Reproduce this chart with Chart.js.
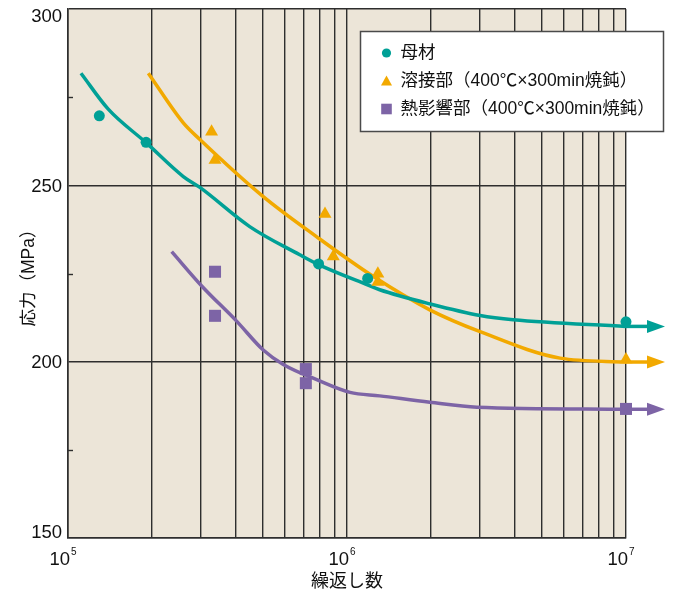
<!DOCTYPE html>
<html lang="ja">
<head>
<meta charset="utf-8">
<title>S-N線図</title>
<script src="https://cdn.jsdelivr.net/npm/chart.js@4.4.1/dist/chart.umd.min.js"></script>
<style>
  html, body { margin: 0; padding: 0; background: #fff; }
  #wrap { width: 675px; height: 596px; }
</style>
</head>
<body>
<div id="wrap"><canvas id="snChart" width="675" height="596"></canvas></div>
<script>
// S-N線図：母材・溶接部・熱影響部（400℃×300min焼鈍）

const seriesLabels = ['母材', '溶接部（400℃×300min焼鈍）', '熱影響部（400℃×300min焼鈍）'];
const seriesColors = ['#00a096', '#f2a900', '#7d64a6'];
const seriesMarkers = ['circle', 'triangle', 'rect'];
const markerRadius = [5.5, 7.5, 8.5];

// 試験点
const baseMetalX = [1.295e5, 1.905e5, 7.91e5, 1.186e6, 1e7];
const baseMetalY = [269.7, 262.2, 227.7, 223.6, 211.3];
const weldX = [3.27e5, 3.365e5, 8.34e5, 8.93e5, 1.29e6, 1.29e6, 1e7];
const weldY = [265.2, 257.2, 241.9, 229.8, 224.9, 222.6, 200.6];
const hazX = [3.365e5, 3.365e5, 7.12e5, 7.12e5, 1e7];
const hazY = [225.5, 213.0, 197.9, 193.9, 186.6];

// 近似曲線
const baseMetalCurveX = [1.113e5, 1.394e5, 1.905e5, 2.59e5, 2.97e5, 4.48e5, 6.77e5, 7.91e5, 1.19e6, 1.31e6, 1.98e6, 3.0e6, 3.94e6, 1e7];
const baseMetalCurveY = [281.8, 271.6, 262.1, 252.5, 249.4, 238.3, 230.3, 227.5, 221.7, 220.4, 216.4, 213.1, 211.9, 210.0];
const weldCurveX = [1.94e5, 2.59e5, 2.97e5, 5.01e5, 7.79e5, 1.24e6, 1.98e6, 3.0e6, 5.8e6, 1e7];
const weldCurveY = [281.8, 267.7, 263.0, 246.8, 235.4, 224.2, 214.7, 208.5, 201.0, 199.9];
const hazCurveX = [2.353e5, 3.02e5, 4.02e5, 5.01e5, 5.91e5, 7.79e5, 1.025e6, 1.31e6, 1.98e6, 2.92e6, 1e7];
const hazCurveY = [231.2, 221.4, 211.5, 203.3, 199.2, 194.9, 191.3, 190.3, 188.5, 187.1, 186.5];

// 目盛
const xGridValues = [];
for (const decade of [1e5, 1e6]) {
  for (let m = 1; m <= 9; m++) xGridValues.push(m * decade);
}
xGridValues.push(1e7);
const xLabelExponents = [5, 6, 7];
const yTickValues = [150, 175, 200, 225, 250, 275, 300];
const yLabelValues = [150, 200, 250, 300];

const pointSets = [[baseMetalX, baseMetalY], [weldX, weldY], [hazX, hazY]];
const curveSets = [[baseMetalCurveX, baseMetalCurveY], [weldCurveX, weldCurveY], [hazCurveX, hazCurveY]];

const FONT = '"Liberation Sans", "Noto Sans CJK JP", Arial, sans-serif';
const INK = '#111';
const GRID = '#2e2e2e';

function toXY(xs, ys) {
  return xs.map((x, i) => ({ x, y: ys[i] }));
}

const datasets = [];
pointSets.forEach(([xs, ys], i) => {
  datasets.push({
    type: 'scatter',
    label: seriesLabels[i],
    data: toXY(xs, ys),
    pointStyle: seriesMarkers[i],
    pointRadius: markerRadius[i],
    backgroundColor: seriesColors[i],
    borderWidth: 0,
    clip: false,
    order: 0
  });
});
curveSets.forEach(([xs, ys], i) => {
  datasets.push({
    type: 'line',
    data: toXY(xs, ys),
    borderColor: seriesColors[i],
    borderWidth: 3.5,
    pointRadius: 0,
    cubicInterpolationMode: 'monotone',
    fill: false,
    clip: false,
    arrowHead: true,
    order: 1
  });
});

// plot area fill
const plotBackground = {
  id: 'plotBackground',
  beforeDraw(chart) {
    const { ctx, chartArea: a } = chart;
    ctx.save();
    ctx.fillStyle = '#fff';
    ctx.fillRect(0, 0, chart.width, chart.height);
    ctx.fillStyle = '#ece5d8';
    ctx.fillRect(a.left, a.top, a.right - a.left, a.bottom - a.top);
    ctx.restore();
  }
};

// short inner ticks + axis numbers (10^n on x)
const axisLabels = {
  id: 'axisLabels',
  beforeDatasetsDraw(chart) {
    const { ctx, chartArea: a, scales: { y } } = chart;
    ctx.save();
    ctx.strokeStyle = GRID;
    ctx.lineWidth = 1.4;
    yTickValues.filter(v => !yLabelValues.includes(v)).forEach(v => {
      const py = Math.round(y.getPixelForValue(v)) + 0.5;
      ctx.beginPath();
      ctx.moveTo(a.left, py);
      ctx.lineTo(a.left + 5, py);
      ctx.stroke();
    });
    ctx.restore();
  },
  afterDraw(chart) {
    const { ctx, chartArea: a, scales: { x, y } } = chart;
    ctx.save();
    ctx.fillStyle = INK;
    ctx.textBaseline = 'alphabetic';

    // y numbers, kept inside the frame at both ends
    ctx.font = '18.5px ' + FONT;
    ctx.textAlign = 'right';
    const cap = 13.2;
    yLabelValues.forEach(v => {
      const py = y.getPixelForValue(v);
      const base = Math.min(Math.max(py + cap / 2, a.top + cap), a.bottom);
      ctx.fillText(String(v), a.left - 6, base);
    });

    // x numbers as 10 with superscript exponent
    xLabelExponents.forEach(e => {
      const px = x.getPixelForValue(Math.pow(10, e));
      ctx.font = '18.5px ' + FONT;
      ctx.textAlign = 'right';
      ctx.fillText('10', px + 2, a.bottom + 27);
      ctx.font = '10px ' + FONT;
      ctx.textAlign = 'left';
      ctx.fillText(String(e), px + 3, a.bottom + 17);
    });
    ctx.restore();
  }
};

// arrow at the long-life end of each curve
const arrowHead = {
  id: 'arrowHead',
  afterDatasetDraw(chart, args, opts) {
    const ds = chart.data.datasets[args.index];
    if (!ds.arrowHead) return;
    const pts = args.meta.data;
    const end = pts[pts.length - 1];
    const ctx = chart.ctx;
    ctx.save();
    ctx.strokeStyle = ds.borderColor;
    ctx.fillStyle = ds.borderColor;
    ctx.lineWidth = ds.borderWidth;
    ctx.beginPath();
    ctx.moveTo(end.x - 1, end.y);
    ctx.lineTo(end.x + opts.stem + 1, end.y);
    ctx.stroke();
    ctx.beginPath();
    ctx.moveTo(end.x + opts.stem, end.y - opts.half);
    ctx.lineTo(end.x + opts.stem + opts.length, end.y);
    ctx.lineTo(end.x + opts.stem, end.y + opts.half);
    ctx.closePath();
    ctx.fill();
    ctx.restore();
  }
};

// boxed legend in the upper right
const boxLegend = {
  id: 'boxLegend',
  afterDraw(chart, args, opts) {
    const ctx = chart.ctx;
    ctx.save();
    ctx.fillStyle = '#fff';
    ctx.strokeStyle = '#4a4a4a';
    ctx.lineWidth = 1.5;
    ctx.fillRect(opts.left, opts.top, opts.width, opts.height);
    ctx.strokeRect(opts.left, opts.top, opts.width, opts.height);

    seriesLabels.forEach((label, i) => {
      const cy = opts.firstRow + i * opts.rowGap;
      const cx = opts.left + 26;
      ctx.fillStyle = seriesColors[i];
      ctx.beginPath();
      if (seriesMarkers[i] === 'circle') {
        ctx.arc(cx, cy, 4.6, 0, Math.PI * 2);
      } else if (seriesMarkers[i] === 'triangle') {
        ctx.moveTo(cx, cy - 5.5);
        ctx.lineTo(cx + 5.5, cy + 4.5);
        ctx.lineTo(cx - 5.5, cy + 4.5);
        ctx.closePath();
      } else {
        ctx.rect(cx - 5.3, cy - 5.3, 10.6, 10.6);
      }
      ctx.fill();

      ctx.fillStyle = INK;
      ctx.font = '17.5px ' + FONT;
      ctx.textAlign = 'left';
      ctx.textBaseline = 'middle';
      ctx.fillText(label, opts.left + 40, cy + 0.5);
    });
    ctx.restore();
  }
};

Chart.defaults.color = INK;
Chart.defaults.font.family = FONT;

new Chart(document.getElementById('snChart'), {
  type: 'line',
  data: { datasets },
  options: {
    responsive: false,
    animation: false,
    devicePixelRatio: 1,
    layout: { padding: { top: 9, right: 49, bottom: 0, left: 0 } },
    plugins: {
      legend: { display: false },
      tooltip: { enabled: false },
      arrowHead: { stem: 21, length: 18, half: 6.5 },
      boxLegend: { left: 360.5, top: 31.5, width: 303, height: 100, firstRow: 53, rowGap: 28 }
    },
    scales: {
      x: {
        type: 'logarithmic',
        min: 1e5,
        max: 1e7,
        afterBuildTicks: s => { s.ticks = xGridValues.map(v => ({ value: v })); },
        afterFit: s => { s.height = 58; },
        ticks: { display: false },
        grid: { color: GRID, lineWidth: 1.4, drawTicks: false },
        border: { color: GRID, width: 1.6 },
        title: {
          display: true,
          text: '繰返し数',
          color: INK,
          font: { family: FONT, size: 18 },
          padding: { top: 0, bottom: 3 }
        }
      },
      y: {
        type: 'linear',
        min: 150,
        max: 300,
        afterBuildTicks: s => { s.ticks = yTickValues.map(v => ({ value: v })); },
        afterFit: s => { s.width = 68; },
        ticks: { display: false },
        grid: {
          color: c => (c.tick && yLabelValues.includes(c.tick.value)) ? GRID : 'rgba(0,0,0,0)',
          lineWidth: 1.4,
          drawTicks: false
        },
        border: { color: GRID, width: 1.6 },
        title: {
          display: true,
          text: '応力（MPa）',
          color: INK,
          font: { family: FONT, size: 17.5 },
          padding: { top: 18.5, bottom: 0 }
        }
      }
    }
  },
  plugins: [plotBackground, axisLabels, arrowHead, boxLegend]
});
</script>
</body>
</html>
